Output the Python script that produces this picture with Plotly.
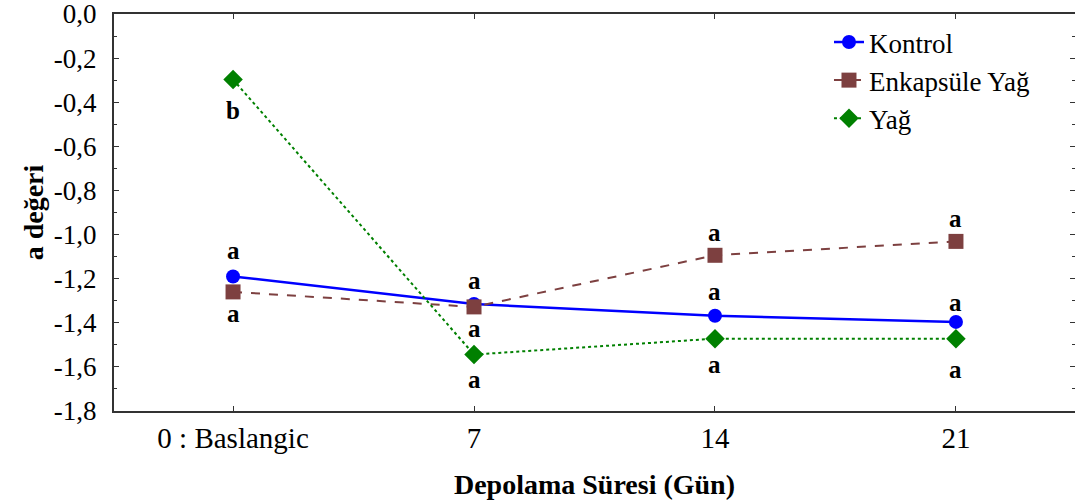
import plotly.graph_objects as go

categories = ["0 : Baslangic", "7", "14", "21"]
kontrol = [-1.19, -1.315, -1.368, -1.396]
enkapsule = [-1.26, -1.328, -1.094, -1.031]
yag = [-0.297, -1.544, -1.472, -1.472]

y_tick_values = [0.0, -0.2, -0.4, -0.6, -0.8, -1.0, -1.2, -1.4, -1.6, -1.8]
y_tick_labels = ["0,0", "-0,2", "-0,4", "-0,6", "-0,8", "-1,0", "-1,2", "-1,4", "-1,6", "-1,8"]

kontrol_letters = ["a", "a", "a", "a"]
enkapsule_letters = ["a", "a", "a", "a"]
yag_letters = ["b", "a", "a", "a"]

# pixel offsets of the letters relative to their points (positive = up)
kontrol_shift = [26, 24, 24, 19]
enkapsule_shift = [-22, -22, 23, 23]
yag_shift = [-31, -25, -26, -31]

FONT = "Liberation Serif"
fig = go.Figure()
fig.add_trace(go.Scatter(x=categories, y=kontrol, name="Kontrol", mode="lines+markers",
                         line=dict(color="#0000FF", width=2.5),
                         marker=dict(symbol="circle", size=14, color="#0000FF")))
fig.add_trace(go.Scatter(x=categories, y=enkapsule, name="Enkapsüle Yağ", mode="lines+markers",
                         line=dict(color="#7D4040", width=2, dash="dash"),
                         marker=dict(symbol="square", size=15, color="#7D4040")))
fig.add_trace(go.Scatter(x=categories, y=yag, name="Yağ", mode="lines+markers",
                         line=dict(color="#008000", width=2, dash="dot"),
                         marker=dict(symbol="diamond", size=15, color="#008000")))

annotations = []
for vals, letters, shifts in [(kontrol, kontrol_letters, kontrol_shift),
                              (enkapsule, enkapsule_letters, enkapsule_shift),
                              (yag, yag_letters, yag_shift)]:
    for i, (v, l, s) in enumerate(zip(vals, letters, shifts)):
        annotations.append(dict(x=i, y=v, xref="x", yref="y", text="<b>%s</b>" % l, showarrow=False,
                                yshift=s, font=dict(family=FONT, size=25, color="black")))

fig.update_layout(
    width=1075, height=503,
    margin=dict(l=114, r=0, t=14, b=92),
    plot_bgcolor="white", paper_bgcolor="white",
    font=dict(family=FONT, size=28, color="black"),
    annotations=annotations,
    showlegend=True,
    legend=dict(x=0.744, y=0.99, xanchor="left", yanchor="top",
                font=dict(family=FONT, size=27, color="black"),
                bgcolor="rgba(0,0,0,0)", tracegroupgap=0),
)
fig.update_xaxes(type="category", range=[-0.494, 3.494], automargin=False,
                 showline=True, linecolor="#333", linewidth=2, mirror="ticks",
                 ticks="inside", ticklen=5, tickcolor="#333",
                 showgrid=False, zeroline=False, ticklabeloverflow="allow",
                 title=dict(text="<b>Depolama Süresi (Gün)</b>", font=dict(family=FONT, size=28), standoff=22),
                 tickfont=dict(family=FONT, size=29))
fig.update_yaxes(range=[-1.8, 0.0], tickvals=y_tick_values, ticktext=y_tick_labels, automargin=False,
                 showline=True, linecolor="#333", linewidth=2, mirror="ticks",
                 ticks="inside", ticklen=5, tickcolor="#333", ticklabelstandoff=10,
                 ticklabeloverflow="allow",
                 minor=dict(ticks="inside", ticklen=3, dtick=0.1, tick0=0, tickcolor="#333"),
                 showgrid=False, zeroline=False,
                 title=dict(text="<b>a değeri</b>", font=dict(family=FONT, size=28), standoff=2),
                 tickfont=dict(family=FONT, size=27))

fig.write_html("out.html", config={"displayModeBar": False},
               post_script="document.body.style.margin='0px';")
